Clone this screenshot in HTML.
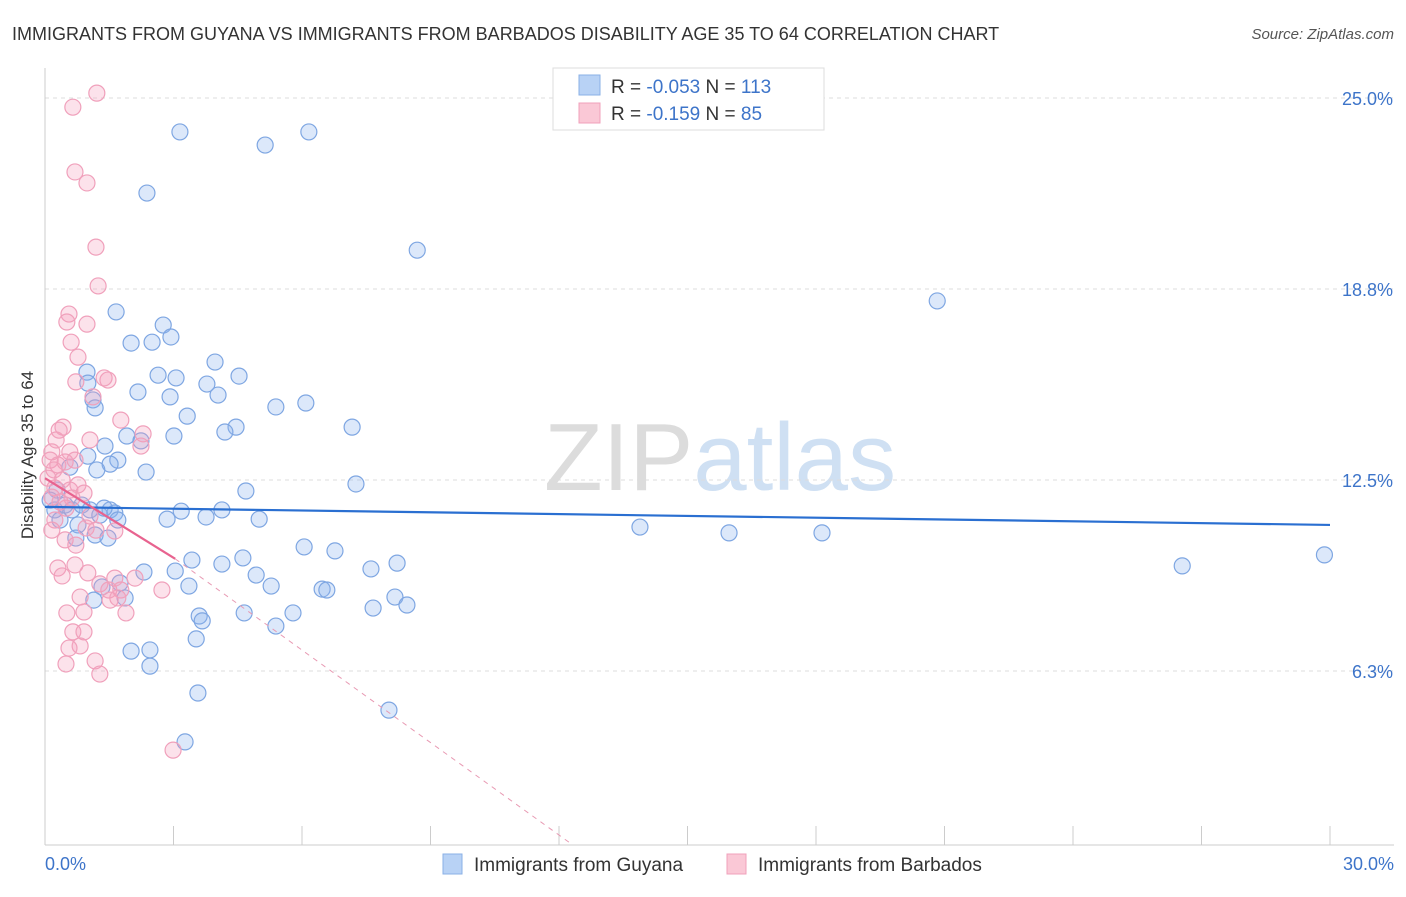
<!DOCTYPE html>
<html><head><meta charset="utf-8"><style>
body{margin:0;background:#fff;font-family:"Liberation Sans",sans-serif;}
svg text{font-family:"Liberation Sans",sans-serif;}
</style></head><body>
<svg id="chart" width="1406" height="892" viewBox="0 0 1406 892" xmlns="http://www.w3.org/2000/svg">
<text x="12" y="40" font-size="18" fill="#333">IMMIGRANTS FROM GUYANA VS IMMIGRANTS FROM BARBADOS DISABILITY AGE 35 TO 64 CORRELATION CHART</text>
<text x="1394" y="39" font-size="15" fill="#555" text-anchor="end" font-style="italic">Source: ZipAtlas.com</text>
<text x="720" y="490" font-size="96" fill="#e4e8ee" text-anchor="middle" font-family="Liberation Serif"><tspan fill="#dcdcdc">ZIP</tspan><tspan fill="#cfe0f3" font-family="Liberation Sans">atlas</tspan></text>
<g id="grid"></g>
<g id="axes"></g>
<g id="pts"></g>
<g id="trends"></g>
<text transform="translate(33,455) rotate(-90)" font-size="17" fill="#333" text-anchor="middle">Disability Age 35 to 64</text>
<g>
<rect x="553" y="68" width="271" height="62" fill="#fff" stroke="#ddd"/>
<rect x="579" y="75" width="21" height="20" fill="#b8d2f5" stroke="#8ab0e6"/>
<rect x="579" y="103" width="21" height="20" fill="#fac8d6" stroke="#f0a0bb"/>
<text x="611" y="93" font-size="19" fill="#333">R = <tspan fill="#3d74c9">-0.053</tspan>   N = <tspan fill="#3d74c9">113</tspan></text>
<text x="611" y="120" font-size="19" fill="#333">R =  <tspan fill="#3d74c9">-0.159</tspan>   N =  <tspan fill="#3d74c9">85</tspan></text>
</g>
<g>
<rect x="443" y="854" width="19" height="20" fill="#b8d2f5" stroke="#8ab0e6"/>
<text x="474" y="871" font-size="19" fill="#333">Immigrants from Guyana</text>
<rect x="727" y="854" width="19" height="20" fill="#fac8d6" stroke="#f0a0bb"/>
<text x="758" y="871" font-size="19" fill="#333">Immigrants from Barbados</text>
</g>
</svg>
<script>
const yTicks=[6.25,12.5,18.75,25];
const yTickLabels=["6.3%","12.5%","18.8%","25.0%"];
const xTicks=[0,3,6,9,12,15,18,21,24,27,30];
const blueX=[3.15,5.14,6.16,2.38,8.69,20.83,1.66,2.76,2.94,2.01,2.50,3.97,2.64,0.98,3.06,4.53,3.78,2.17,1.0,4.04,2.92,1.12,1.17,5.39,6.09,3.32,7.17,4.46,4.20,3.01,1.91,2.24,1.40,1.0,1.70,1.52,1.21,0.58,2.36,7.26,4.69,0.28,0.12,0.23,0.47,0.63,0.86,1.05,1.28,1.52,1.63,1.70,1.38,0.35,0.77,2.85,3.18,3.76,4.13,5.0,0.72,1.17,1.47,13.89,15.97,18.14,29.87,26.55,6.05,6.77,3.43,4.62,4.13,2.31,3.04,4.93,7.61,8.22,3.36,5.28,6.47,6.58,1.75,1.33,1.87,1.14,8.17,8.45,7.66,4.65,5.79,3.60,3.67,5.39,3.53,2.01,2.45,2.45,3.57,8.03,3.27];
const blueY=[23.89,23.46,23.89,21.89,20.02,18.36,18.0,17.57,17.18,16.98,17.01,16.36,15.93,16.03,15.84,15.90,15.64,15.38,15.67,15.28,15.22,15.12,14.86,14.89,15.02,14.59,14.23,14.23,14.07,13.94,13.94,13.78,13.61,13.28,13.15,13.02,12.83,12.92,12.76,12.37,12.14,12.17,11.84,11.52,11.68,11.52,11.68,11.52,11.35,11.52,11.42,11.19,11.58,11.19,11.03,11.22,11.48,11.29,11.52,11.22,10.6,10.7,10.6,10.96,10.77,10.77,10.05,9.69,10.31,10.18,9.88,9.95,9.75,9.49,9.52,9.39,9.59,9.78,9.03,9.03,8.93,8.90,9.13,9.0,8.64,8.57,8.67,8.41,8.31,8.15,8.15,8.05,7.89,7.72,7.30,6.90,6.94,6.41,5.53,4.97,3.93];
const pinkX=[1.21,0.65,0.70,0.98,1.19,1.24,0.56,0.51,0.98,0.61,0.77,1.47,1.38,0.72,1.12,1.77,0.42,0.33,2.29,2.24,0.26,1.05,0.16,0.58,0.12,0.30,0.47,0.21,0.70,0.07,0.40,0.23,0.58,0.77,0.91,0.16,0.35,0.63,0.49,1.05,0.23,0.16,0.96,1.19,1.63,0.47,0.72,0.30,0.70,0.40,1.0,1.63,1.28,1.49,1.77,2.10,2.73,0.82,1.52,1.70,0.51,0.91,1.89,0.65,0.91,0.82,0.56,0.49,1.17,1.28,2.99];
const pinkY=[25.16,24.70,22.58,22.22,20.12,18.85,17.93,17.67,17.60,17.01,16.52,15.77,15.84,15.71,15.22,14.46,14.23,14.13,14.01,13.61,13.81,13.81,13.42,13.42,13.15,12.99,13.09,12.83,13.15,12.56,12.5,12.24,12.17,12.34,12.07,11.94,11.78,11.91,11.58,11.32,11.19,10.86,10.93,10.86,10.83,10.54,10.37,9.62,9.72,9.36,9.46,9.29,9.10,8.90,8.90,9.29,8.90,8.67,8.57,8.64,8.15,8.18,8.15,7.53,7.53,7.07,7.00,6.48,6.58,6.15,3.66];
const blueTrend=[[0,11.62],[30,11.03]];
const pinkTrendSolid=[[0,12.56],[3.04,9.92]];
const pinkTrendDashed=[[3.04,9.92],[12.26,0.62]];
const NS="http://www.w3.org/2000/svg";
const X0=45,X1=1330,YBOT=845;
function sx(v){return X0+(v/30)*(X1-X0);}
function sy(v){return 862-v*30.56;}
function mk(tag,attrs,parent){const e=document.createElementNS(NS,tag);for(const k in attrs)e.setAttribute(k,attrs[k]);parent.appendChild(e);return e;}
const grid=document.getElementById('grid'),axes=document.getElementById('axes'),pts=document.getElementById('pts'),tr=document.getElementById('trends');
yTicks.forEach((t,i)=>{
 const l=mk('line',{x1:X0,x2:1394,y1:sy(t),y2:sy(t),stroke:'#ddd','stroke-dasharray':'4,4'},grid);
 
 
 const tx=mk('text',{x:1393,y:sy(t)+7,'font-size':18,fill:'#3d74c9','text-anchor':'end'},axes);
 tx.textContent=yTickLabels[i];
 
 
});
const ya=mk('line',{x1:X0,x2:X0,y1:68,y2:YBOT,stroke:'#ccc'},axes);


const xa=mk('line',{x1:X0,x2:1394,y1:YBOT,y2:YBOT,stroke:'#ccc'},axes);


xTicks.forEach(t=>{
 const l=mk('line',{x1:sx(t),x2:sx(t),y1:826,y2:YBOT,stroke:'#ccc'},axes);
 
 
});
const xl0=mk('text',{x:45,y:870,'font-size':18,fill:'#3d74c9'},axes);xl0.textContent='0.0%';


const xl1=mk('text',{x:1394,y:870,'font-size':18,fill:'#3d74c9','text-anchor':'end'},axes);xl1.textContent='30.0%';


function dots(xs,ys,fill,stroke,name){xs.forEach((x,i)=>{
 const c=mk('circle',{cx:sx(x),cy:sy(ys[i]),r:8,fill:fill,stroke:stroke,'stroke-width':1.2},pts);
 
 
});}
dots(blueX,blueY,'rgba(140,180,240,0.3)','#7ea6e2','guyana-point');
dots(pinkX,pinkY,'rgba(245,160,190,0.3)','#f0a0bb','barbados-point');
function line(p,stroke,w,dash,name){const l=mk('line',{x1:sx(p[0][0]),y1:sy(p[0][1]),x2:sx(p[1][0]),y2:sy(p[1][1]),stroke:stroke,'stroke-width':w},tr);if(dash)l.setAttribute('stroke-dasharray',dash);
 
 }
line(blueTrend,'#2a6fd1',2.2,null,'guyana-trend-line');
line(pinkTrendSolid,'#e8638f',2.2,null,'barbados-trend-line');
line(pinkTrendDashed,'#e89ab3',1,'5,5','barbados-trend-extension');
</script>
</body></html>
